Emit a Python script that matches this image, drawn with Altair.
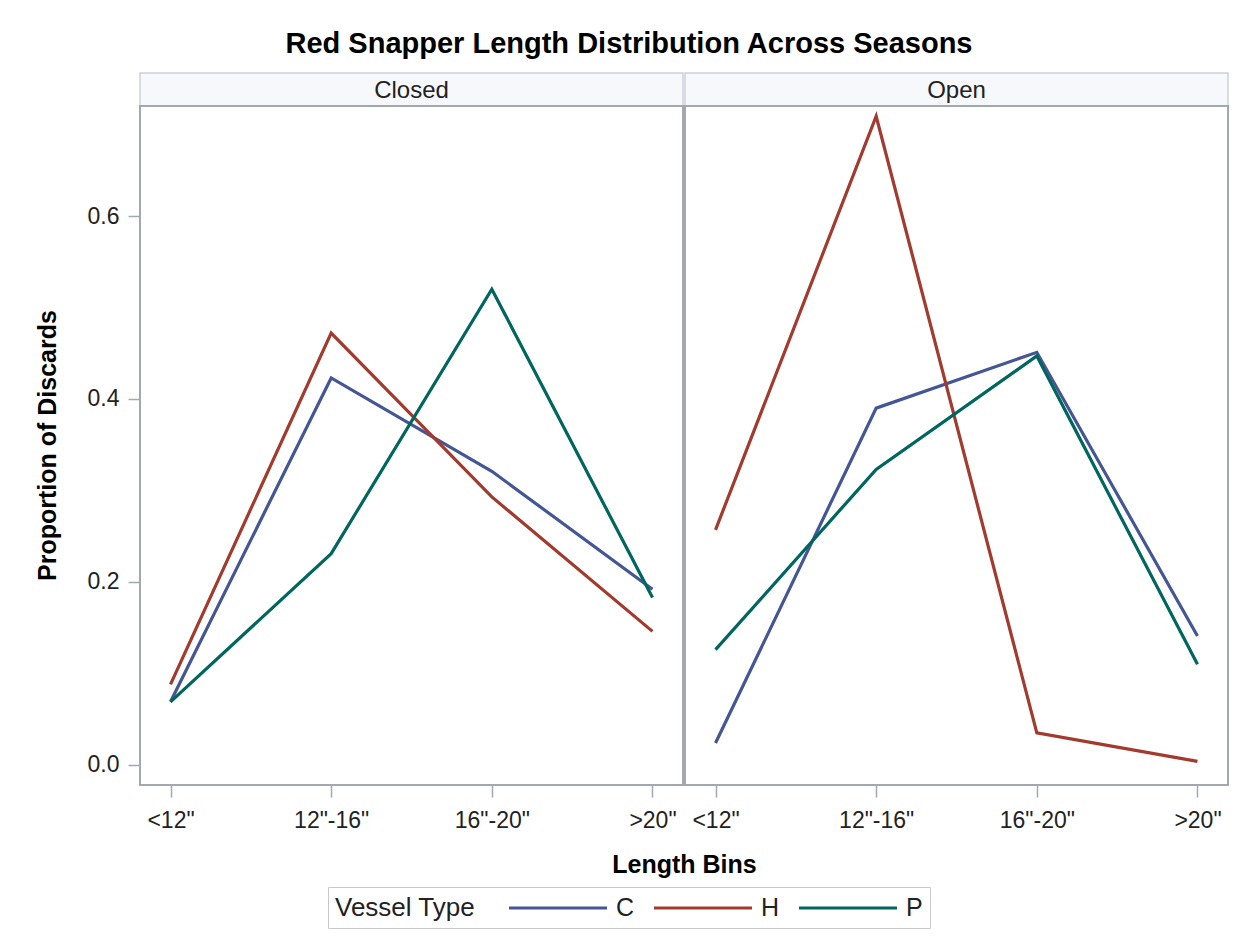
import altair as alt
import pandas as pd

bins = ['<12"', '12"-16"', '16"-20"', '>20"']
seasons = ["Closed", "Open"]
vessels = ["C", "H", "P"]
colors = ["#445694", "#A23A2E", "#01665E"]

closed_C = [0.069, 0.423, 0.321, 0.192]
closed_H = [0.088, 0.472, 0.293, 0.146]
closed_P = [0.069, 0.231, 0.520, 0.183]
open_C = [0.024, 0.390, 0.451, 0.141]
open_H = [0.257, 0.709, 0.035, 0.004]
open_P = [0.126, 0.323, 0.447, 0.110]

series = {
    ("Closed", "C"): closed_C,
    ("Closed", "H"): closed_H,
    ("Closed", "P"): closed_P,
    ("Open", "C"): open_C,
    ("Open", "H"): open_H,
    ("Open", "P"): open_P,
}
rows = []
for (s, v), vals in series.items():
    for b, val in zip(bins, vals):
        rows.append({"season": s, "bin": b, "vessel": v, "prop": val})
df = pd.DataFrame(rows)

FONT = "Liberation Sans"
W = 543
HDR = 33
H = 712
YDOM = [-0.0219, 0.7563]
FRAME = "#A3A8AF"


def panel(season, first):
    d = df[df.season == season]
    hdr_df = pd.DataFrame({"season": [season]})
    header_box = alt.Chart(hdr_df).mark_rect(
        fill="#F7F8FC", stroke="#CDD0D6", strokeWidth=1.5
    ).encode(x=alt.value(0), x2=alt.value(W), y=alt.value(0), y2=alt.value(HDR))
    header_txt = alt.Chart(hdr_df).mark_text(
        font=FONT, fontSize=24, color="#222222", align="center", baseline="middle"
    ).encode(text="season:N", x=alt.value(W / 2), y=alt.value(HDR / 2 + 1))
    frame = alt.Chart(hdr_df).mark_rect(
        fillOpacity=0, stroke=FRAME, strokeWidth=2
    ).encode(x=alt.value(0), x2=alt.value(W), y=alt.value(HDR), y2=alt.value(H))

    if first:
        xaxis = alt.Axis(
            domain=False, grid=False, tickSize=12, tickColor=FRAME, tickWidth=1.5,
            labelFont=FONT, labelFontSize=23, labelColor="#222222", labelPadding=12,
            labelAngle=0, title="Length Bins", titleFont=FONT, titleFontSize=25,
            titleFontWeight="bold", titleColor="black", titleX=544, titleY=87,
            titleAlign="center", titleBaseline="alphabetic",
        )
        yaxis = alt.Axis(
            values=[0, 0.2, 0.4, 0.6], format=".1f", domain=False, grid=False,
            tickSize=12, tickColor=FRAME, tickWidth=1.5, labelFont=FONT,
            labelFontSize=23, labelColor="#222222", labelPadding=9,
            title="Proportion of Discards", titleFont=FONT, titleFontSize=25,
            titleFontWeight="bold", titleColor="black", titleX=-93, titleY=372,
            titleAngle=270, titleAlign="center", titleBaseline="middle",
        )
    else:
        xaxis = alt.Axis(
            domain=False, grid=False, tickSize=12, tickColor=FRAME, tickWidth=1.5,
            labelFont=FONT, labelFontSize=23, labelColor="#222222", labelPadding=12,
            labelAngle=0, title="",
        )
        yaxis = None

    lines = alt.Chart(d).mark_line(strokeWidth=3.2).encode(
        x=alt.X("bin:N", sort=bins, scale=alt.Scale(type="point", padding=0.19), axis=xaxis),
        y=alt.Y("prop:Q", scale=alt.Scale(domain=YDOM, nice=False, zero=False), axis=yaxis),
        color=alt.Color(
            "vessel:N",
            scale=alt.Scale(domain=vessels, range=colors),
            legend=alt.Legend(
                title="Vessel Type", orient="none", legendX=188, legendY=814,
                direction="horizontal", titleOrient="left", titleFont=FONT,
                titleFontSize=26, titleFontWeight="normal", titleColor="#222222",
                titlePadding=68, labelFont=FONT, labelFontSize=25, labelColor="#222222",
                symbolType="M-4,0H4", symbolSize=600, symbolStrokeWidth=3,
                labelOffset=44, columnPadding=13, padding=7,
                strokeColor="#C8C8C8", fillColor="white",
            ),
        ),
    )
    return alt.layer(header_box, header_txt, frame, lines).properties(width=W, height=H)


chart = alt.hconcat(
    panel("Closed", True), panel("Open", False), spacing=2, bounds="flush"
).resolve_scale(color="shared").properties(
    title=alt.TitleParams(
        text="Red Snapper Length Distribution Across Seasons", font=FONT,
        fontSize=29, fontWeight="bold", color="black", anchor="middle",
        align="center", frame="group", dx=489, dy=29, offset=19, baseline="alphabetic",
    ),
    padding={"left": 27, "top": 22, "right": 0, "bottom": 0},
).configure_view(strokeWidth=0)

chart.save("out.html", embed_options={"renderer": "svg", "actions": False})
